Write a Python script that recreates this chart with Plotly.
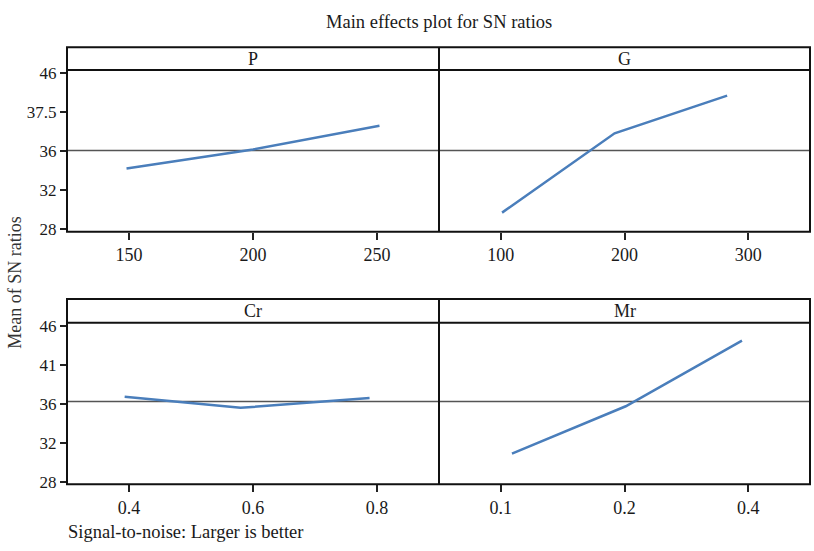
import plotly.graph_objects as go

W, H = 814, 551
FONT = "Liberation Serif, DejaVu Serif, serif"

# ---- data ----
factors = ["P", "G", "Cr", "Mr"]
level_labels = {
    "P": ["150", "200", "250"],
    "G": ["100", "200", "300"],
    "Cr": ["0.4", "0.6", "0.8"],
    "Mr": ["0.1", "0.2", "0.4"],
}
# x positions of the plotted points (in level units, 1..3)
level_pos = {
    "P": [0.98, 2.00, 3.02],
    "G": [1.01, 1.92, 2.83],
    "Cr": [0.965, 1.90, 2.94],
    "Mr": [1.09, 2.01, 2.95],
}
sn_means = {
    "P": [34.21, 36.14, 38.56],
    "G": [29.69, 37.79, 41.65],
    "Cr": [36.73, 35.60, 36.60],
    "Mr": [30.90, 35.76, 42.50],
}
grand_mean_top = 36.04
grand_mean_bottom = 36.26

y_tickvals = [28, 32, 36, 40, 44]
y_ticktext_top = ["28", "32", "36", "37.5", "46"]
y_ticktext_bottom = ["28", "32", "36", "41", "46"]

# ---- layout geometry (pixels) ----
xl, xm, xr = 67, 439, 810
top_strip, top_plot_top, top_plot_bot = 42.3, 65.7, 231.7
bot_strip, bot_plot_top, bot_plot_bot = 300.7, 325.0, 490.7


def px(x):
    return x / W


def py(y):
    return 1 - y / H


fig = go.Figure()
LINE_COLOR = "#4a7ebb"
TXT = "#1a1a1a"

axes = [
    ("P", "x", "y", [px(xl), px(xm)], [py(top_plot_bot), py(top_plot_top)], [27.73, 44.26], y_ticktext_top, True),
    ("G", "x2", "y2", [px(xm), px(xr)], [py(top_plot_bot), py(top_plot_top)], [27.73, 44.26], y_ticktext_top, False),
    ("Cr", "x3", "y3", [px(xl), px(xm)], [py(bot_plot_bot), py(bot_plot_top)], [27.76, 44.33], y_ticktext_bottom, True),
    ("Mr", "x4", "y4", [px(xm), px(xr)], [py(bot_plot_bot), py(bot_plot_top)], [27.76, 44.33], y_ticktext_bottom, False),
]

layout = dict(
    width=W, height=H,
    margin=dict(l=0, r=0, t=0, b=0),
    paper_bgcolor="white", plot_bgcolor="white",
    showlegend=False,
    font=dict(family=FONT, size=18, color=TXT),
)

for f, xa, ya, xd, yd, yr, ytt, show_y in axes:
    fig.add_trace(go.Scatter(
        x=level_pos[f], y=sn_means[f], mode="lines",
        line=dict(color=LINE_COLOR, width=2.5),
        xaxis=xa, yaxis=ya, hoverinfo="skip",
    ))
    xkey = "xaxis" + xa[1:]
    ykey = "yaxis" + ya[1:]
    layout[xkey] = dict(
        domain=xd, range=[0.5, 3.5], anchor=ya,
        tickvals=[1, 2, 3], ticktext=level_labels[f],
        ticks="outside", ticklen=7, tickwidth=1.5, tickcolor="#222",
        showgrid=False, zeroline=False, showline=False,
        tickfont=dict(family=FONT, size=18, color=TXT),
    )
    layout[ykey] = dict(
        domain=yd, range=yr, anchor=xa,
        tickvals=y_tickvals, ticktext=ytt,
        ticks="outside" if show_y else "", ticklen=6, tickwidth=1.5, tickcolor="#222",
        showticklabels=show_y,
        showgrid=False, zeroline=False, showline=False,
        tickfont=dict(family=FONT, size=17, color=TXT),
    )

fig.update_layout(**layout)

shapes = []
# grand-mean reference lines
for ymean, ya in [(grand_mean_top, "y"), (grand_mean_top, "y2"), (grand_mean_bottom, "y3"), (grand_mean_bottom, "y4")]:
    xa = "x" + ya[1:]
    shapes.append(dict(type="line", xref=f"{xa} domain", yref=ya, x0=0, x1=1, y0=ymean, y1=ymean,
                       line=dict(color="#555", width=1.5), layer="below"))

for (s_top, p_top, p_bot) in [(top_strip, top_plot_top, top_plot_bot), (bot_strip, bot_plot_top, bot_plot_bot)]:
    shapes.append(dict(type="rect", xref="paper", yref="paper", x0=px(xl), x1=px(xr),
                       y0=py(p_bot), y1=py(s_top), line=dict(color="#111", width=2)))
    shapes.append(dict(type="line", xref="paper", yref="paper", x0=px(xl), x1=px(xr),
                       y0=py(p_top), y1=py(p_top), line=dict(color="#111", width=2)))
    shapes.append(dict(type="line", xref="paper", yref="paper", x0=px(xm), x1=px(xm),
                       y0=py(p_bot), y1=py(s_top), line=dict(color="#111", width=2)))

annotations = [
    dict(text="Main effects plot for SN ratios", x=px(439), y=py(16), xref="paper", yref="paper",
         showarrow=False, xanchor="center", yanchor="middle", font=dict(family=FONT, size=18.5, color=TXT)),
    dict(text="Mean of SN ratios", x=px(15), y=py(284), xref="paper", yref="paper",
         showarrow=False, textangle=-90, xanchor="center", yanchor="middle",
         font=dict(family=FONT, size=18, color="#333")),
    dict(text="Signal-to-noise: Larger is better", x=px(66), y=py(540), xref="paper", yref="paper",
         showarrow=False, xanchor="left", yanchor="middle", font=dict(family=FONT, size=18.5, color=TXT)),
]
for f, cx, cy in [("P", (xl + xm) / 2, (top_strip + top_plot_top) / 2),
                  ("G", (xm + xr) / 2, (top_strip + top_plot_top) / 2),
                  ("Cr", (xl + xm) / 2, (bot_strip + bot_plot_top) / 2),
                  ("Mr", (xm + xr) / 2, (bot_strip + bot_plot_top) / 2)]:
    annotations.append(dict(text=f, x=px(cx), y=py(cy), xref="paper", yref="paper", showarrow=False,
                            xanchor="center", yanchor="middle", font=dict(family=FONT, size=18, color=TXT)))

fig.update_layout(shapes=shapes, annotations=annotations)
fig.write_html("out.html")
